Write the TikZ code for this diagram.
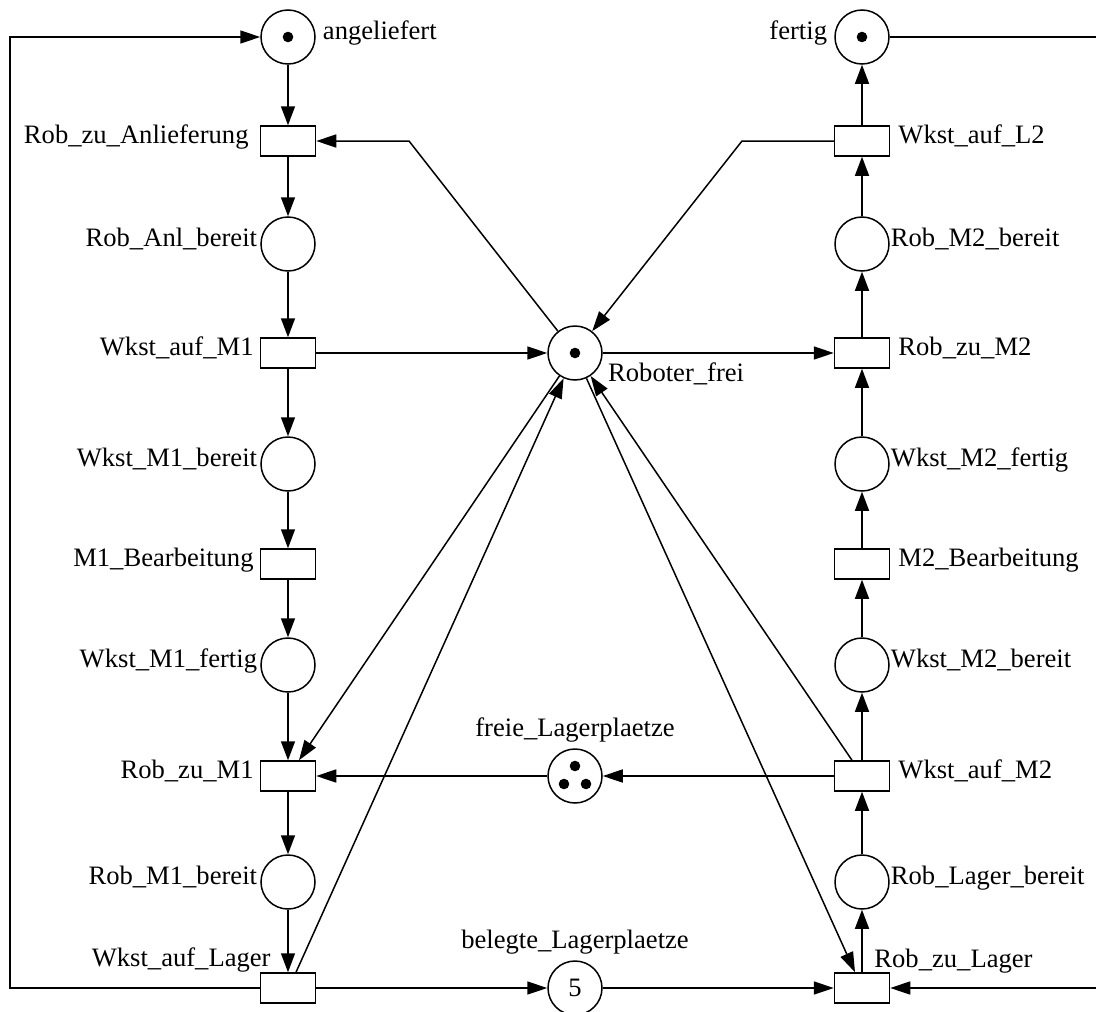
\documentclass[tikz,border=0pt]{standalone}
\usepackage{fontspec}
\setmainfont{Liberation Serif}
\usetikzlibrary{arrows.meta}
\newcommand\netfont{\fontsize{26.6pt}{31pt}\selectfont}
\begin{document}
\begin{tikzpicture}[x=1pt,y=-1pt,
  every node/.style={font=\netfont},
  placenode/.style={draw, circle, line width=1.5pt, minimum size=54pt, inner sep=0pt},
  transnode/.style={draw, rectangle, line width=1.5pt, minimum width=55pt, minimum height=30pt, inner sep=0pt},
  lbl/.style={inner sep=0pt},
  edgeline/.style={line width=1.5pt},
  harc/.style={edgeline, -{Triangle[length=20pt,width=13pt]}},
  varc/.style={edgeline, -{Triangle[length=19pt,width=14pt]}},
  darc/.style={edgeline, -{Triangle[length=20pt,width=13.5pt]}},
  tokendot/.style={fill=black}]
\useasboundingbox (0,0) rectangle (1096,1012);

% left column: delivery -> machine 1 -> store
\node[placenode]  (angel) at (288,37)  {};
\node[transnode]  (rza)   at (288,141) {};
\node[placenode]  (rab)   at (288,244) {};
\node[transnode]  (wam1)  at (288,353) {};
\node[placenode]  (wm1b)  at (288,464) {};
\node[transnode]  (m1b)   at (288,564) {};
\node[placenode]  (wm1f)  at (288,665) {};
\node[transnode]  (rzm1)  at (288,776) {};
\node[placenode]  (rm1b)  at (288,882) {};
\node[transnode]  (wal)   at (288,988) {};

% right column: store -> machine 2 -> finished
\node[placenode]  (fertig) at (862,37)  {};
\node[transnode]  (wal2)   at (862,141) {};
\node[placenode]  (rm2b)   at (862,244) {};
\node[transnode]  (rzm2)   at (862,353) {};
\node[placenode]  (wm2f)   at (862,464) {};
\node[transnode]  (m2b)    at (862,564) {};
\node[placenode]  (wm2b)   at (862,665) {};
\node[transnode]  (wam2)   at (862,776) {};
\node[placenode]  (rlb)    at (862,882) {};
\node[transnode]  (rzl)    at (862,988) {};

% shared resources
\node[placenode]  (robfrei) at (575,353) {};
\node[placenode]  (freie)   at (575,776) {};
\node[placenode]  (beleg)   at (575,988) {5};

% tokens
\fill[tokendot] (angel.center) circle [radius=5.3pt];
\fill[tokendot] (fertig.center) circle [radius=5.3pt];
\fill[tokendot] (robfrei.center) circle [radius=5.3pt];
\fill[tokendot] ([yshift=10pt]freie.center) circle [radius=5.3pt];
\fill[tokendot] ([shift={(-11pt,-8pt)}]freie.center) circle [radius=5.3pt];
\fill[tokendot] ([shift={(11pt,-8pt)}]freie.center) circle [radius=5.3pt];

% labels
\node[lbl, anchor=mid west] at ([xshift=7pt]angel.east) {angeliefert};
\node[lbl, anchor=mid east] at ([xshift=-7pt]fertig.west) {fertig};
\node[lbl, anchor=mid east] at ([xshift=-11pt]rza.west) {Rob\_zu\_Anlieferung};
\node[lbl, anchor=mid east] at ([xshift=-3pt]rab.west) {Rob\_Anl\_bereit};
\node[lbl, anchor=mid east] at ([xshift=-6pt]wam1.west) {Wkst\_auf\_M1};
\node[lbl, anchor=mid east] at ([xshift=-3pt]wm1b.west) {Wkst\_M1\_bereit};
\node[lbl, anchor=mid east] at ([xshift=-6pt]m1b.west) {M1\_Bearbeitung};
\node[lbl, anchor=mid east] at ([xshift=-3pt]wm1f.west) {Wkst\_M1\_fertig};
\node[lbl, anchor=mid east] at ([xshift=-6pt]rzm1.west) {Rob\_zu\_M1};
\node[lbl, anchor=mid east] at ([xshift=-3pt]rm1b.west) {Rob\_M1\_bereit};
\node[lbl, anchor=base east] at ([shift={(11pt,6pt)}]wal.north west) {Wkst\_auf\_Lager};

\node[lbl, anchor=mid west] at ([xshift=8pt]wal2.east) {Wkst\_auf\_L2};
\node[lbl, anchor=mid west] at ([xshift=1pt]rm2b.east) {Rob\_M2\_bereit};
\node[lbl, anchor=mid west] at ([xshift=8pt]rzm2.east) {Rob\_zu\_M2};
\node[lbl, anchor=mid west] at ([xshift=1pt]wm2f.east) {Wkst\_M2\_fertig};
\node[lbl, anchor=mid west] at ([xshift=8pt]m2b.east) {M2\_Bearbeitung};
\node[lbl, anchor=mid west] at ([xshift=1pt]wm2b.east) {Wkst\_M2\_bereit};
\node[lbl, anchor=mid west] at ([xshift=8pt]wam2.east) {Wkst\_auf\_M2};
\node[lbl, anchor=mid west] at ([xshift=1pt]rlb.east) {Rob\_Lager\_bereit};
\node[lbl, anchor=base west] at ([shift={(-16pt,5pt)}]rzl.north east) {Rob\_zu\_Lager};

\node[lbl, anchor=base west] at ([shift={(33pt,-28pt)}]robfrei.center) {Roboter\_frei};
\node[lbl, anchor=base] at ([yshift=12pt]freie.north) {freie\_Lagerplaetze};
\node[lbl, anchor=base] at ([yshift=12pt]beleg.north) {belegte\_Lagerplaetze};

% bend points and loose ends
\coordinate (bendL) at (409,141);
\coordinate (bendR) at (742,141);
\coordinate (loopx) at (10,0);
\coordinate (edgex) at (1096,0);

% left column flow
\draw[varc] (angel) -- (rza);
\draw[varc] (rza) -- (rab);
\draw[varc] (rab) -- (wam1);
\draw[varc] (wam1) -- (wm1b);
\draw[varc] (wm1b) -- (m1b);
\draw[varc] (m1b) -- (wm1f);
\draw[varc] (wm1f) -- (rzm1);
\draw[varc] (rzm1) -- (rm1b);
\draw[varc] (rm1b) -- (wal);

% right column flow
\draw[varc] (rzl) -- (rlb);
\draw[varc] (rlb) -- (wam2);
\draw[varc] (wam2) -- (wm2b);
\draw[varc] (wm2b) -- (m2b);
\draw[varc] (m2b) -- (wm2f);
\draw[varc] (wm2f) -- (rzm2);
\draw[varc] (rzm2) -- (rm2b);
\draw[varc] (rm2b) -- (wal2);
\draw[varc] (wal2) -- (fertig);

% robot resource
\draw[harc] (robfrei) -- (bendL) -- (rza.east);
\draw[darc] (wal2.west) -- (bendR) -- (robfrei);
\draw[harc] (wam1) -- (robfrei);
\draw[harc] (robfrei) -- (rzm2);
\draw[darc] (robfrei) -- ([xshift=11pt]rzm1.north);
\draw[darc] ([xshift=8pt]wal.north) -- (robfrei);
\draw[darc] (robfrei) -- ([xshift=-7pt]rzl.north);
\draw[darc] ([xshift=-10pt]wam2.north) -- (robfrei);

% storage places
\draw[harc] (wam2) -- (freie);
\draw[harc] (freie) -- (rzm1);
\draw[harc] (wal) -- (beleg);
\draw[harc] (beleg) -- (rzl);

% outer loops
\draw[harc] (wal.west) -- (wal.west -| loopx) |- (angel.west);
\draw[edgeline] (fertig.east) -- (fertig.east -| edgex);
\draw[harc] (rzl.east -| edgex) -- (rzl.east);
\end{tikzpicture}
\end{document}
